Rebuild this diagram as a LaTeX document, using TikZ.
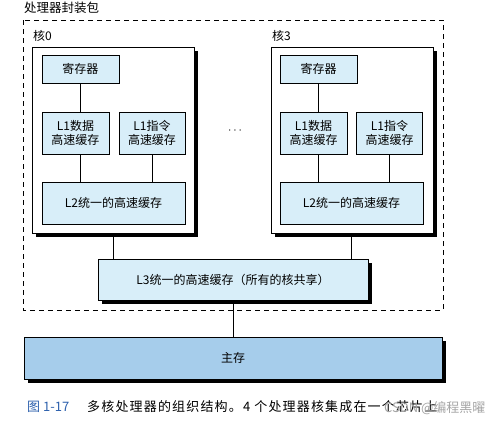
\documentclass[tikz,border=0pt]{standalone}
\usepackage{fontspec}
\setmainfont{Noto Sans CJK SC}
\usetikzlibrary{positioning}
\definecolor{cachefill}{HTML}{D8EEF9}
\definecolor{memfill}{HTML}{A6CDEB}
\definecolor{capblue}{HTML}{2F62AE}

\begin{document}
\begin{tikzpicture}[
  x=1pt, y=-1pt,
  every node/.style={font=\fontsize{12}{14.5}\selectfont},
  cache/.style={draw, fill=cachefill, align=center, inner sep=0pt},
  core/.style={draw, fill=white, inner sep=0pt, minimum width=162pt, minimum height=186pt},
  plain/.style={inner sep=0pt, anchor=west},
  shadowbox/.style={fill=black, draw=black, line width=0.5pt}
]
\fill[white] (0,0) rectangle (499,423);
\useasboundingbox (0,0) rectangle (499,423);

% drop shadows (behind the boxes)
\filldraw[shadowbox] (36,51) rectangle (197.5,236.5);
\filldraw[shadowbox] (275,51) rectangle (436.5,236.5);
\filldraw[shadowbox] (102,263) rectangle (371.5,303.5);
\filldraw[shadowbox] (28,341) rectangle (445.5,382.5);

% package
\draw[dashed, dash pattern=on 5pt off 4pt] (23,20) rectangle (443,310);
\node[plain, font=\fontsize{12.5}{14}\selectfont] (pkg) at (24,8) {处理器封装包};

% core 0
\node[core] (core0) at (113,140) {};
\node[plain] (core0lbl) at (33,36) {核0};
\node[cache, minimum width=77pt, minimum height=28pt] (reg0) at (80.5,69) {寄存器};
\node[cache, minimum width=67pt, minimum height=42pt] (l1d0) at (75.5,133) {L1数据\\高速缓存};
\node[cache, minimum width=66pt, minimum height=42pt] (l1i0) at (152,133) {L1指令\\高速缓存};
\node[cache, minimum width=143pt, minimum height=42pt] (l20) at (113.5,203) {L2统一的高速缓存};

% core 3
\node[core] (core3) at (352,140) {};
\node[plain] (core3lbl) at (272,36) {核3};
\node[cache, minimum width=77pt, minimum height=28pt] (reg3) at (318.5,69) {寄存器};
\node[cache, minimum width=67pt, minimum height=42pt] (l1d3) at (313.5,133) {L1数据\\高速缓存};
\node[cache, minimum width=66pt, minimum height=42pt] (l1i3) at (389.5,133) {L1指令\\高速缓存};
\node[cache, minimum width=143pt, minimum height=42pt] (l23) at (351.5,203) {L2统一的高速缓存};

\node (dots) at (235,131) {$\cdots$};

% shared
\node[cache, minimum width=270pt, minimum height=41pt] (l3) at (233,279.5) {L3统一的高速缓存（所有的核共享）};
\node[draw, fill=memfill, inner sep=0pt, minimum width=418pt, minimum height=42pt] (mem) at (233,358) {主存};

\draw (reg0) -- (reg0 |- l1d0.north);
\draw (reg0 |- l1d0.south) -- (reg0 |- l20.north);
\draw (l1i0) -- (l1i0 |- l20.north);
\draw (reg3) -- (reg3 |- l1d3.north);
\draw (reg3 |- l1d3.south) -- (reg3 |- l23.north);
\draw (l1i3) -- (l1i3 |- l23.north);
\draw (l20 |- core0.south) ++(0,3) -- (l20 |- l3.north);
\draw (l23 |- core3.south) ++(0,3) -- (l23 |- l3.north);
\draw (l3 |- l3.south) ++(0,3) -- (l3 |- mem.north);

% caption
\node[plain, text=capblue, font=\fontsize{13}{15}\selectfont] (capnum) at (27,407) {图 1-17};
\node[plain, font=\fontsize{13}{15}\selectfont\addfontfeatures{LetterSpace=9}] (captxt) at (87,407) {多核处理器的组织结构。4 个处理器核集成在一个芯片上};
\node[plain, text=gray!70, font=\fontsize{13}{15}\selectfont] (mark) at (384,408) {CSDN @编程黑曜};
\end{tikzpicture}
\end{document}
